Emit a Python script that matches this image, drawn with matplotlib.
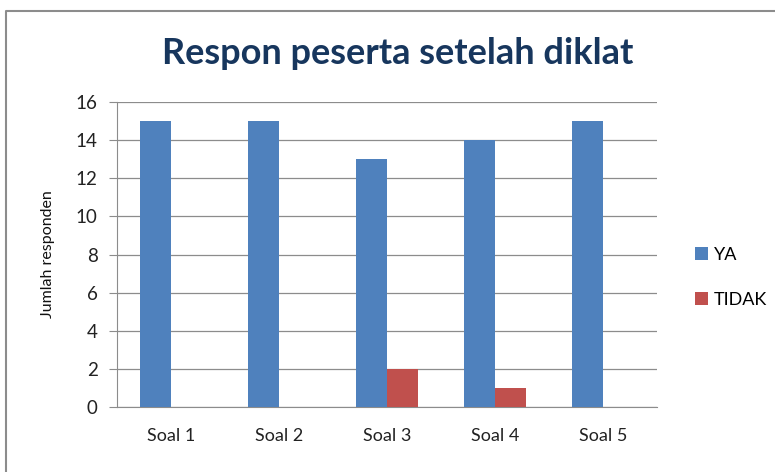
import matplotlib.pyplot as plt
from matplotlib.lines import Line2D
import numpy as np

# data
soal = ["Soal 1", "Soal 2", "Soal 3", "Soal 4", "Soal 5"]
ya = [15, 15, 13, 14, 15]
tidak = [0, 0, 2, 1, 0]

plt.rcParams['font.family'] = ['Lato', 'DejaVu Sans']

W, H = 775, 472
fig = plt.figure(figsize=(W / 100, H / 100), dpi=100)

# chart outer border: only left and top edges are inside the crop
fx, fy = 6 / W, 1 - 11 / H
fig.add_artist(Line2D([fx, fx, 1.0], [0.0, fy, fy], transform=fig.transFigure,
                      color='#8c8c8c', linewidth=1.5))

ax = fig.add_axes([117 / W, 1 - 407 / H, 540 / W, 305 / H])

x = np.arange(len(soal))
w = 0.29
ax.bar(x - w / 2, ya, w, color='#4F81BD', label='YA', zorder=3)
ax.bar(x + w / 2, tidak, w, color='#C0504D', label='TIDAK', zorder=3)

ax.set_xlim(-0.5, len(soal) - 0.5)
ax.set_ylim(0, 16)
ax.set_yticks(range(0, 17, 2))
ax.set_xticks(x)
ax.set_xticklabels(soal, fontsize=13, color='#222222')
ax.tick_params(axis='y', labelsize=13.5, colors='#222222', length=6,
               color='#8c8c8c', pad=8)
ax.tick_params(axis='x', length=0, pad=15)
ax.grid(axis='y', color='#8c8c8c', linewidth=0.9, zorder=0)

for s in ['top', 'right']:
    ax.spines[s].set_visible(False)
ax.spines['left'].set_color('#8c8c8c')
ax.spines['bottom'].set_color('#8c8c8c')

ax.set_ylabel('Jumlah responden', fontsize=11.5, color='#111111')
ax.yaxis.set_label_coords(-0.115, 0.5)

fig.text(398 / W, 1 - 53 / H, 'Respon peserta setelah diklat',
         ha='center', va='center', fontsize=26, fontweight='bold',
         color='#17365D')

ax.legend(loc='center left', bbox_to_anchor=(1.04, 0.425), frameon=False,
          fontsize=13, handlelength=0.75, handleheight=0.75,
          handletextpad=0.3, labelspacing=1.6)

fig.savefig('out.png', dpi=100)
